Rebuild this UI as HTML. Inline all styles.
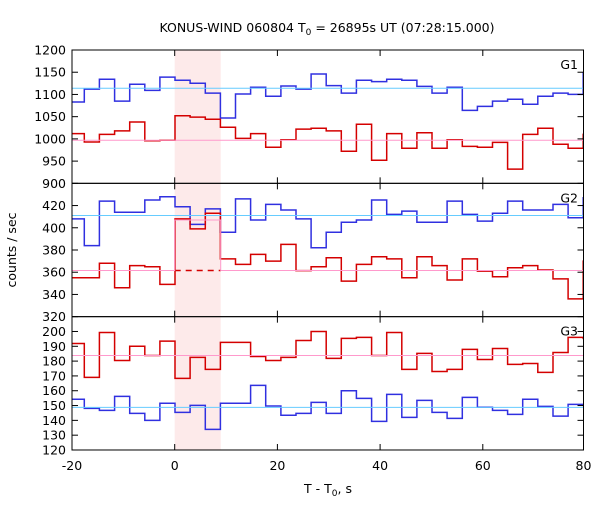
<!DOCTYPE html>
<html><head><meta charset="utf-8"><style>
body{margin:0;background:#fff;width:600px;height:500px;overflow:hidden}
svg{font-family:"DejaVu Sans","Liberation Sans",sans-serif}
</style></head><body>
<svg id="chart" width="600" height="500" viewBox="0 0 600 500"></svg>
<script>
const xTicks = [-20, 0, 20, 40, 60, 80];
const binStart = -17.6;
const binWidth = 2.944;
const shadeRange = [0, 8.96];
const panelNames = ["G1", "G2", "G3"];
const yRanges = [[900, 1200], [320, 440], [120, 210]];
const yTicks1 = [900, 950, 1000, 1050, 1100, 1150, 1200];
const yTicks2 = [320, 340, 360, 380, 400, 420];
const yTicks3 = [120, 130, 140, 150, 160, 170, 180, 190, 200];
const g1Blue = [1083,1112,1134,1085,1123,1109,1139,1132,1125,1103,1047,1101,1116,1096,1119,1112,1146,1120,1103,1132,1129,1134,1132,1118,1103,1116,1064,1073,1085,1089,1078,1096,1103,1100,1148];
const g1Red = [1012,993,1010,1018,1038,996,997,1052,1049,1044,1026,1001,1012,981,998,1022,1024,1018,972,1033,952,1012,979,1014,979,998,983,981,992,932,1010,1024,988,979,1010];
const g2Blue = [408,384,424,414,414,425,428,419,403,417,396,426,407,421,416,408,382,396,405,407,425,412,415,405,405,424,412,406,413,424,416,416,421,409,427];
const g2Red = [355,355,368,346,366,365,349,408,399,413,372,367,376,370,385,361.5,365,373,352,367,374,372,355,374,366,353,372,361,356,364,366,362,354,336,370];
const g3Blue = [154.2,148.1,146.7,156.2,144.7,140,151.5,145.4,150.1,133.9,151.5,151.5,163.6,149.7,143.4,144.7,152.1,144.7,160,154.8,139.3,157.5,142,153.5,145.4,141.3,155.5,148.8,146.7,144,154.2,149.4,142.9,150.8,150.1];
const g3Red = [191.9,169,199.3,180.4,190,183.8,193.5,168.3,182.5,174.4,192.6,192.6,183.1,180.4,182.5,193.9,200,181.8,195.3,196,183.8,199.3,174.4,185.2,173,174.4,187.9,181.1,188.5,177.8,178.4,172.4,185.8,196,195.3];
const blueRef = [1114, 411, 148.8];
const redRef = [997, 361.5, 183.8];
const g2PinkShaded = 407;

const svg = document.getElementById('chart');
const NS = 'http://www.w3.org/2000/svg';
const L = 72, R = 585.5, RF = 583.5, T = 50, PH = 133.33;
const xS = t => L + (t + 20) / 100 * (R - L);
function yS(p, v){ const [a,b]=yRanges[p]; const top=T+p*PH; return top + (b - v)/(b-a)*PH; }
function mk(tag, attrs, parent){ const e=document.createElementNS(NS,tag); for(const k in attrs) e.setAttribute(k,attrs[k]); (parent||svg).appendChild(e); return e; }

const clip = mk('clipPath',{id:'pc'}); mk('rect',{x:L,y:T,width:RF-L,height:3*PH},clip);

const shade = mk('rect',{x:xS(shadeRange[0]),y:T,width:xS(shadeRange[1])-xS(shadeRange[0]),height:3*PH,fill:'#fdeaea'});



function stepPath(p, vals){
  let d='';
  for(let i=0;i<vals.length;i++){
    const x0=xS(binStart+(i-1)*binWidth), x1=xS(binStart+i*binWidth), y=yS(p,vals[i]);
    d += (i===0?'M':'L')+x0.toFixed(1)+','+y.toFixed(1)+'L'+x1.toFixed(1)+','+y.toFixed(1);
  }
  return d;
}
const series = [[g1Blue,g1Red],[g2Blue,g2Red],[g3Blue,g3Red]];
for(let p=0;p<3;p++){
  const b = mk('path',{d:stepPath(p,series[p][0]),fill:'none',stroke:'#3030e0','stroke-width':1.5,'clip-path':'url(#pc)'});
  
  
  const r = mk('path',{d:stepPath(p,series[p][1]),fill:'none',stroke:'#d40000','stroke-width':1.5,'clip-path':'url(#pc)'});
  
  
  const c = mk('line',{x1:L,x2:RF,y1:yS(p,blueRef[p]),y2:yS(p,blueRef[p]),stroke:'#66ccff','stroke-width':1});
  
  
  let pd;
  if(p===1){
    const ys=yS(p,redRef[p]), yh=yS(p,g2PinkShaded), xa=xS(shadeRange[0]), xb=xS(shadeRange[1]);
    pd='M'+L+','+ys+'L'+xa+','+ys+'L'+xa+','+yh+'L'+xb+','+yh+'L'+xb+','+ys+'L'+RF+','+ys;
    const dl = mk('line',{x1:xa,x2:xb,y1:ys,y2:ys,stroke:'#d40000','stroke-width':1.5,'stroke-dasharray':'6,5'});
    
    
  } else {
    const ys=yS(p,redRef[p]); pd='M'+L+','+ys+'L'+RF+','+ys;
  }
  const pk = mk('path',{d:pd,fill:'none',stroke:'#ff99cc','stroke-width':1});
  
  

  const top=T+p*PH;
  const fr = mk('rect',{x:L,y:top,width:RF-L,height:PH,fill:'none',stroke:'#000','stroke-width':1});
  
  
  const yt=[yTicks1,yTicks2,yTicks3][p];
  for(const v of yt){
    const y=yS(p,v);
    mk('line',{x1:L,x2:L+6,y1:y,y2:y,stroke:'#000'});
    mk('line',{x1:RF-6,x2:RF,y1:y,y2:y,stroke:'#000'});
    const tx = mk('text',{x:L-6,y:y+4.5,'text-anchor':'end','font-size':12.5,fill:'#000'});
    tx.textContent=v;
    
    
  }
  for(const t of xTicks){
    const x=Math.min(xS(t),RF);
    mk('line',{x1:x,x2:x,y1:top,y2:top+6,stroke:'#000'});
    mk('line',{x1:x,x2:x,y1:top+PH-6,y2:top+PH,stroke:'#000'});
  }
  const gl = mk('text',{x:578,y:top+19,'text-anchor':'end','font-size':12.5,fill:'#000'});
  gl.textContent=panelNames[p];
  
  
}
for(const t of xTicks){
  const tx = mk('text',{x:Math.min(xS(t),RF),y:470,'text-anchor':'middle','font-size':12.5,fill:'#000'});
  tx.textContent=t;
  
  
}
</script>
<svg width="600" height="500" style="position:absolute;left:0;top:0">
<text x="327" y="32" text-anchor="middle" font-size="12.5" font-family="DejaVu Sans, Liberation Sans, sans-serif">KONUS-WIND 060804 T<tspan font-size="9" dy="3">0</tspan><tspan dy="-3"> = 26895s UT (07:28:15.000)</tspan></text>
<text x="328" y="493" text-anchor="middle" font-size="12.5" font-family="DejaVu Sans, Liberation Sans, sans-serif">T - T<tspan font-size="9" dy="3">0</tspan><tspan dy="-3">, s</tspan></text>
<text x="16" y="250" text-anchor="middle" font-size="12.5" font-family="DejaVu Sans, Liberation Sans, sans-serif" transform="rotate(-90 16 250)">counts / sec</text>
</svg>
</body></html>
